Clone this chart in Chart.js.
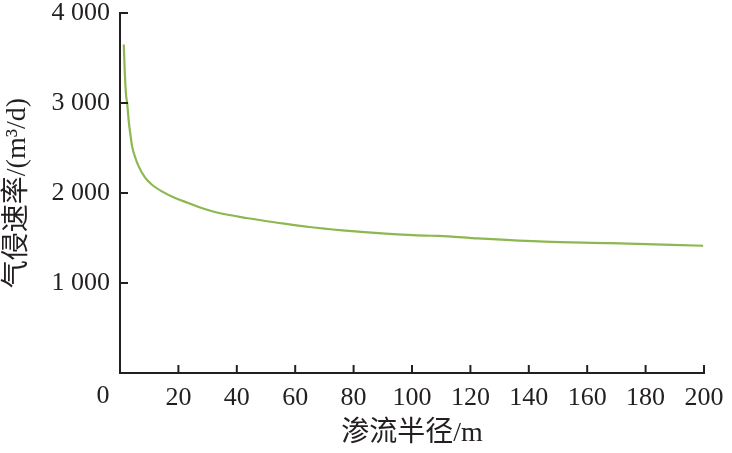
<!DOCTYPE html>
<html>
<head>
<meta charset="utf-8">
<script src="https://cdn.jsdelivr.net/npm/chart.js@4"></script>
<style>
html,body{margin:0;padding:0;background:#fff;}
#wrap{width:732px;height:453px;position:relative;}
</style>
</head>
<body>
<div id="wrap"><canvas id="c"></canvas></div>
<script>
const radius = [1.3, 1.65, 2.1, 2.45, 3.0, 3.57, 4.15, 5.27, 6.39, 8.67, 10.95, 14.35, 18.9, 23.4, 27.96, 32.5, 43.3, 54.6, 64.8, 76.1, 90.9, 104.5, 109, 122.6, 145.3, 168, 199.7];
const rate   = [3650, 3330, 3080, 3000, 2796, 2648, 2518, 2389, 2296, 2167, 2092, 2018, 1944, 1889, 1833, 1789, 1722, 1667, 1622, 1585, 1548, 1526, 1524, 1496, 1459, 1444, 1414];
const xTicks = [0, 20, 40, 60, 80, 100, 120, 140, 160, 180, 200];
const yTicks = [0, 1000, 2000, 3000, 4000];
const xTitle = '渗流半径/m';
const yTitle = '气侵速率/(m³/d)';

const FONT = "'Liberation Serif','Noto Sans CJK SC',serif";
const INK = '#231f20';
const FS = 26;
const TFS = 28;

const innerTicks = {
  id: 'innerTicks',
  afterDraw(chart) {
    const ctx = chart.ctx, xs = chart.scales.x, ys = chart.scales.y, a = chart.chartArea;
    ctx.save();
    ctx.strokeStyle = INK;
    ctx.lineWidth = 2;
    xTicks.forEach(t => {
      if (t === 0) return;
      const px = xs.getPixelForValue(t);
      ctx.beginPath(); ctx.moveTo(px, a.bottom); ctx.lineTo(px, a.bottom - 8); ctx.stroke();
    });
    yTicks.forEach(t => {
      if (t === 0) return;
      const py = ys.getPixelForValue(t);
      ctx.beginPath(); ctx.moveTo(a.left, py); ctx.lineTo(a.left + 8, py); ctx.stroke();
    });
    // shared origin label "0"
    ctx.fillStyle = INK;
    ctx.font = FS + "px " + FONT;
    ctx.textAlign = 'center';
    ctx.textBaseline = 'top';
    ctx.fillText(String(xTicks[0]), xs.getPixelForValue(0) - 17, a.bottom + 10);
    ctx.restore();
  }
};

new Chart(document.getElementById('c'), {
  type: 'line',
  data: {
    datasets: [{
      data: radius.map((r, i) => ({x: r, y: rate[i]})),
      borderColor: '#8cb84f',
      borderWidth: 2.2,
      pointRadius: 0,
      cubicInterpolationMode: 'monotone',
      fill: false
    }]
  },
  options: {
    responsive: true,
    maintainAspectRatio: false,
    animation: false,
    layout: { padding: { left: 0, right: 28, top: 13, bottom: 0 } },
    plugins: { legend: { display: false }, tooltip: { enabled: false } },
    scales: {
      x: {
        type: 'linear',
        min: 0, max: 200,
        afterBuildTicks: s => { s.ticks = xTicks.map(v => ({value: v})); },
        afterFit: s => { s.height = 80; s.paddingLeft = 0; s.paddingRight = 0; },
        grid: { display: false, drawTicks: false },
        border: { display: true, color: INK, width: 2 },
        ticks: {
          color: INK,
          font: { family: FONT, size: FS },
          padding: 10,
          maxRotation: 0,
          autoSkip: false,
          callback: v => v === 0 ? '' : String(v)
        },
        title: {
          display: true, text: xTitle, color: INK,
          font: { family: FONT, size: TFS },
          padding: { top: 0, bottom: 3 }
        }
      },
      y: {
        type: 'linear',
        min: 0, max: 4000,
        afterBuildTicks: s => { s.ticks = yTicks.map(v => ({value: v})); },
        afterFit: s => { s.width = 120; s.paddingTop = 0; s.paddingBottom = 0; },
        grid: { display: false, drawTicks: false },
        border: { display: true, color: INK, width: 2 },
        ticks: {
          color: INK,
          font: { family: FONT, size: FS },
          padding: 10,
          autoSkip: false,
          callback: v => v === 0 ? '' : String(v).replace(/\B(?=(\d{3})+(?!\d))/g, ' ')
        },
        title: {
          display: true, text: yTitle, color: INK,
          font: { family: FONT, size: TFS },
          padding: { top: 1, bottom: 0 }
        }
      }
    }
  },
  plugins: [innerTicks]
});
</script>
</body>
</html>
